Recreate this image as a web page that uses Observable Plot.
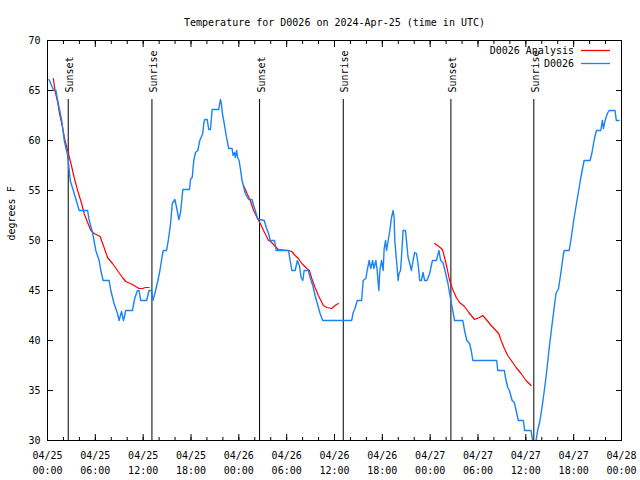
<!DOCTYPE html>
<html><head><meta charset="utf-8">
<script src="https://cdn.jsdelivr.net/npm/d3@7"></script>
<script src="https://cdn.jsdelivr.net/npm/@observablehq/plot@0.6"></script>
<style>
body{margin:0;background:#fff;}
#wrap{position:relative;width:640px;height:480px;}
#legend{position:absolute;left:400px;top:44px;width:210px;font:10px "DejaVu Sans Mono",monospace;color:#000;}
.row{display:flex;justify-content:flex-end;align-items:center;height:13px;white-space:pre;}
.row svg{margin-left:7px;display:block;}
</style></head><body><div id="wrap"></div><script>
const titleText = "Temperature for D0026 on 2024-Apr-25 (time in UTC)";
const yLabel = "degrees F";
const legendLabels = ["D0026 Analysis", "D0026"];
const legendColors = ["#ff0000", "#1a82f7"];

// hours since 2024-04-25 00:00 UTC
const blueHours = [0.19,0.78,1.06,1.28,1.78,2.1,2.53,2.85,3.35,3.98,
5.03,5.23,5.65,6.06,6.48,6.69,6.98,7.73,7.94,8.35,
8.78,8.98,9.28,9.53,9.81,10.65,10.94,11.28,11.48,11.69,
12.44,12.73,13.03,13.23,13.56,13.85,14.1,14.4,14.53,14.94,
15.15,15.44,15.65,15.98,16.19,16.48,16.69,16.98,17.81,17.94,
18.15,18.35,18.56,18.85,19.1,19.48,19.6,19.73,20.03,20.23,
20.44,20.65,21.48,21.69,21.81,21.94,22.1,22.31,22.53,22.73,
23.15,23.28,23.44,23.56,23.73,23.85,24.03,24.19,24.4,24.6,
24.81,25.23,25.65,25.85,26.06,26.35,26.6,27.19,27.44,27.73,
27.94,28.48,28.69,30.23,30.44,30.65,31.06,31.35,31.6,31.81,
32.03,32.19,32.73,32.94,33.28,33.56,33.85,34.19,34.53,38.15,
38.35,38.56,38.85,39.4,39.6,39.94,40.1,40.35,40.56,40.78,
40.94,41.19,41.35,41.56,41.69,41.9,42.1,42.23,42.4,42.53,
42.73,42.94,43.15,43.35,43.48,43.56,43.78,43.98,44.1,44.28,
44.4,44.53,44.6,44.9,45.03,45.23,45.44,45.65,45.85,46.06,
46.28,46.48,46.69,46.9,47.1,47.31,47.6,47.94,48.28,48.78,
49.1,49.31,49.6,49.94,50.23,50.53,50.78,51.06,52.1,52.31,
52.6,52.94,53.15,53.35,56.35,56.48,57.31,57.44,57.73,57.94,
58.28,58.56,58.78,59.06,59.69,59.85,60.65,60.85,61.0,61.28,
61.48,61.78,62.1,62.53,62.94,63.35,63.78,64.1,64.4,64.69,
64.81,65.44,65.65,66.06,66.48,66.9,67.31,68.06,68.28,68.56,
68.85,69.4,69.6,69.73,69.94,70.23,70.44,71.19,71.35,71.69];
const blueTemps = [66.1,65,65,64,62,60,58.5,56,54.7,53,
53,52,50.8,49,48,47,46,46,45,43.7,
42.7,42,42.9,42,43,43,44.2,45,45,44,
44,45,45,44,45,46,47,48.5,49,49,
50,51.7,53.7,54.1,53.3,52.1,52.8,55.1,55.1,56.1,
56.3,58,58.8,59,60,60.7,61.7,62.1,62.1,61.1,
61.1,63.1,63.1,64.1,63.7,62.7,62,61,60,59.2,
59.2,58.5,58.8,58.3,59,58.3,58,57.2,56,55.4,
54.7,54.1,54.1,53.5,53,52.2,52.1,52,51.3,50.7,
50,50,49,49,48,47,47,48,47.5,46.3,
46,47,47,46.3,45.5,44.5,43.7,42.7,42,42,
42.8,43.2,44,44,46,46.2,47,48,47.2,48,
47.2,48,47,45,47,48,47,49.2,50,49,
50,51,52.3,53,52.3,50,48,46,46.7,47,
48.3,50,51,51,50,48.3,47.7,47,48,48.8,
48.7,47.7,46,46,46.8,46,46,46.7,48,48,
49,48,47.8,46.7,45.7,44.3,43.2,42,42,41,
40,39.7,39,38,38,37,37,36.3,35.3,35,
34,33.8,33,32,32,31,31,30,29.5,30,
31,32,33.7,36.3,39.3,42,44.7,45.2,46.8,48.5,
49,49,50,52.3,54.3,56.3,58,58,58.7,60,
61,61,62,61.2,62,62.7,63,63,62,62];

const redHours = [0.73,0.94,1.28,1.48,1.9,2.19,2.53,2.94,3.35,3.78,
4.28,4.6,5.03,5.44,5.85,6.6,7.1,7.53,8.15,8.78,
9.4,9.81,10.65,11.48,11.9,12.31,12.73,null,
24.6,25.03,25.44,25.85,26.28,26.69,27.1,27.73,28.0,28.94,
30.23,30.65,31.06,31.48,31.9,32.53,32.85,33.15,33.56,33.98,
34.6,35.03,35.65,36.06,36.48,null,
48.56,49.1,49.53,49.81,50.1,50.44,50.78,51.28,51.69,52.31,
52.85,53.56,54.19,54.6,55.03,55.65,56.6,56.9,57.31,57.73,
58.35,58.78,59.4,60.03,60.65];
const redTemps = [66.2,65,63.8,62.8,61.3,60,59,57.7,56.3,55,
53.7,52.7,51.8,51,50.7,50.4,49.3,48.3,47.7,47,
46.3,45.9,45.6,45.2,45.2,45.3,45.3,null,
55.5,54.7,54,53,52.3,51.7,51,50,49.9,49.1,
49,48.9,48.5,48.2,47.7,47.2,47,46.2,45.3,44.5,
43.5,43.3,43.2,43.5,43.7,null,
49.7,49.4,49.1,48.3,47.3,46,45.2,44.3,43.8,43.4,
42.8,42.1,42.3,42.5,42.1,41.5,40.7,40,39.2,38.5,
37.8,37.3,36.7,36,35.5];

const sunHours = [2.6, 13.1, 26.6, 37.1, 50.6, 61.0];
const sunLabels = ["Sunset","Sunrise","Sunset","Sunrise","Sunset","Sunrise"];
const sunLineTop = 64.1;
const sunLabelY = 64.8;

const majorTickHours = [0,6,12,18,24,30,36,42,48,54,60,66,72];
const minorTickHours = [0,2,4,6,8,10,12,14,16,18,20,22,24,26,28,30,32,34,36,38,40,42,44,46,48,50,52,54,56,58,60,62,64,66,68,70,72];
const yTicks = [30,35,40,45,50,55,60,65,70];

const base = Date.UTC(2024, 3, 25);
const toDate = h => h == null ? null : new Date(base + h * 3600000);
const blue = blueHours.map((h, i) => ({t: toDate(h), v: blueTemps[i]}));
const red = redHours.map((h, i) => ({t: toDate(h), v: redTemps[i]}));
const events = sunHours.map((h, i) => ({t: toDate(h), label: sunLabels[i]}));
const fmt = d3.utcFormat("%m/%d\n%H:%M");
const none = () => "";

const chart = Plot.plot({
  width: 640, height: 480,
  marginTop: 40, marginBottom: 40, marginLeft: 47, marginRight: 19,
  style: {fontFamily: "'DejaVu Sans Mono', monospace", fontSize: "10px", color: "black", background: "white", overflow: "visible"},
  x: {type: "utc", domain: [toDate(0), toDate(72)]},
  y: {domain: [30, 70]},
  marks: [
    Plot.ruleX(events, {x: "t", y1: 30, y2: sunLineTop, stroke: "black", strokeWidth: 1}),
    Plot.text(events, {x: "t", y: sunLabelY, text: "label", rotate: -90, textAnchor: "start", dx: 2, fill: "black"}),
    Plot.line(red, {x: "t", y: "v", stroke: legendColors[0], strokeWidth: 1.2, clip: true}),
    Plot.line(blue, {x: "t", y: "v", stroke: legendColors[1], strokeWidth: 1.4, clip: true}),
    Plot.frame({stroke: "black"}),
    Plot.axisX({anchor: "bottom", ticks: minorTickHours.map(toDate), tickSize: -3, tickFormat: none, label: null}),
    Plot.axisX({anchor: "top", ticks: minorTickHours.map(toDate), tickSize: -3, tickFormat: none, label: null}),
    Plot.axisX({anchor: "bottom", ticks: majorTickHours.map(toDate), tickSize: -6, tickFormat: none, label: null}),
    Plot.axisX({anchor: "top", ticks: majorTickHours.map(toDate), tickSize: -6, tickFormat: none, label: null}),
    Plot.axisX({anchor: "bottom", ticks: majorTickHours.map(toDate), tickSize: 0, tickPadding: 8, tickFormat: fmt, lineHeight: 1.5, label: null}),
    Plot.axisY({anchor: "left", ticks: yTicks, tickSize: -6, tickFormat: none, label: null}),
    Plot.axisY({anchor: "right", ticks: yTicks, tickSize: -6, tickFormat: none, label: null}),
    Plot.axisY({anchor: "left", ticks: yTicks, tickSize: 0, tickPadding: 7, label: null}),
    Plot.text([yLabel], {frameAnchor: "left", rotate: -90, dx: -36, fill: "black"}),
    Plot.text([titleText], {frameAnchor: "top", dy: -22, fill: "black"})
  ]
});

const wrap = document.getElementById("wrap");
wrap.appendChild(chart);
const legend = document.createElement("div");
legend.id = "legend";
legendLabels.forEach((lab, i) => {
  const row = document.createElement("div");
  row.className = "row";
  const span = document.createElement("span");
  span.textContent = lab;
  row.appendChild(span);
  const sw = document.createElementNS("http://www.w3.org/2000/svg", "svg");
  sw.setAttribute("width", "29"); sw.setAttribute("height", "3");
  const ln = document.createElementNS("http://www.w3.org/2000/svg", "line");
  ln.setAttribute("x1", "0"); ln.setAttribute("x2", "29"); ln.setAttribute("y1", "1.5"); ln.setAttribute("y2", "1.5");
  ln.setAttribute("stroke", legendColors[i]); ln.setAttribute("stroke-width", "1.3");
  sw.appendChild(ln);
  row.appendChild(sw);
  legend.appendChild(row);
});
wrap.appendChild(legend);
</script></body></html>
